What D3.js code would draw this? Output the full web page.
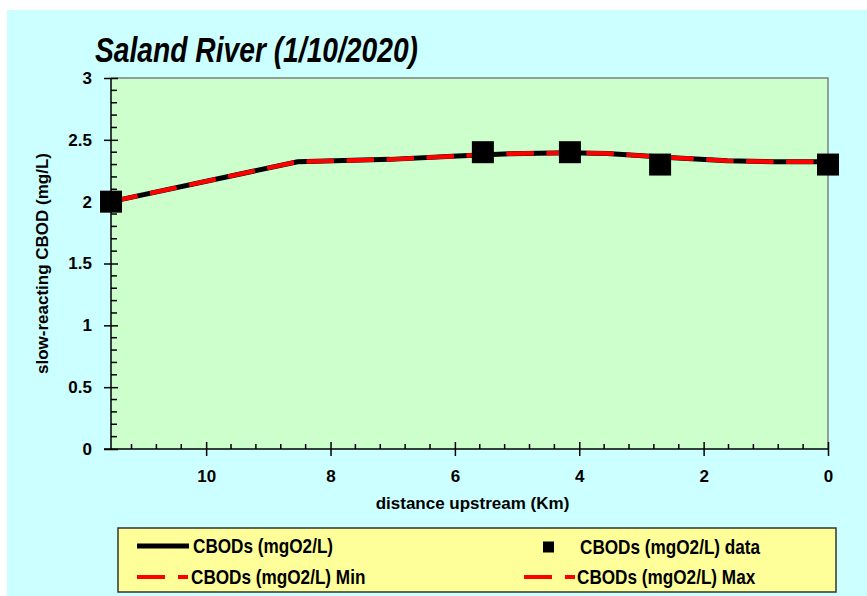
<!DOCTYPE html>
<html lang="en">
<head>
<meta charset="UTF-8" />
<title>Saland River CBOD</title>
<script src="https://cdn.jsdelivr.net/npm/d3@7/dist/d3.min.js"></script>
<style>
    body { margin: 0; background: #ffffff; overflow: hidden; }
    text { font-family: 'Liberation Sans', Arial, sans-serif; font-weight: bold; fill: #000; }
</style>
</head>
<body>
<svg id="chart" width="867" height="596"></svg>
<script>
    // model output (km upstream, mg/L)
    const modelKm = [11.53, 8.53, 7.04, 5.96, 5.11, 4.2, 3.55, 2.49, 1.62, 0.88, 0];
    const modelCbod = [2.0, 2.323, 2.342, 2.369, 2.388, 2.395, 2.39, 2.356, 2.33, 2.323, 2.323];
    const minCbod = [2.0, 2.323, 2.342, 2.369, 2.388, 2.395, 2.39, 2.356, 2.33, 2.323, 2.323];
    const maxCbod = [2.0, 2.323, 2.342, 2.369, 2.388, 2.395, 2.39, 2.356, 2.33, 2.323, 2.323];

    // observed data
    const dataKm = [11.53, 5.55, 4.15, 2.7, 0];
    const dataCbod = [2.0, 2.4, 2.4, 2.3, 2.3];

    const xTicks = [10, 8, 6, 4, 2, 0];
    const yTicks = [0, 0.5, 1, 1.5, 2, 2.5, 3];
    const legendLabels = ["CBODs (mgO2/L)", "CBODs (mgO2/L) data", "CBODs (mgO2/L) Min", "CBODs (mgO2/L) Max"];

    const svg = d3.select("#chart");
    const plot = { left: 111, right: 828, top: 78, bottom: 449 };

    svg.append("rect")
        .attr("x", 7).attr("y", 10)
        .attr("width", 860).attr("height", 586)
        .attr("fill", "#ccffff");

    const x = d3.scaleLinear().domain([11.53, 0]).range([plot.left, plot.right]);
    const y = d3.scaleLinear().domain([0, 3]).range([plot.bottom, plot.top]);

    svg.append("rect")
        .attr("x", plot.left).attr("y", plot.top)
        .attr("width", plot.right - plot.left)
        .attr("height", plot.bottom - plot.top)
        .attr("fill", "#ccffcc");

    // gray frame top & right
    svg.append("path")
        .attr("d", `M${plot.left},${plot.top}H${plot.right}V${plot.bottom}`)
        .attr("fill", "none")
        .attr("stroke", "#808080")
        .attr("stroke-width", 1.5);

    // minor ticks
    const yMinor = d3.range(0, 3.001, 0.1).filter(v => Math.abs(v * 2 - Math.round(v * 2)) > 1e-6);
    svg.append("g").selectAll("line").data(yMinor).join("line")
        .attr("x1", plot.left).attr("x2", plot.left + 6)
        .attr("y1", d => y(d)).attr("y2", d => y(d))
        .attr("stroke", "#000").attr("stroke-width", 1.5);

    const xMinor = d3.range(0, 11.5, 0.4).filter(v => Math.abs(v / 2 - Math.round(v / 2)) > 1e-6);
    svg.append("g").selectAll("line").data(xMinor).join("line")
        .attr("x1", d => x(d)).attr("x2", d => x(d))
        .attr("y1", plot.bottom).attr("y2", plot.bottom - 5)
        .attr("stroke", "#000").attr("stroke-width", 1.5);

    // axes with crossing major ticks
    const yAxis = svg.append("g")
        .attr("transform", `translate(${plot.left},0)`)
        .call(d3.axisLeft(y).tickValues(yTicks).tickSize(7).tickPadding(12).tickFormat(d3.format("")));
    yAxis.selectAll(".tick line").clone().attr("x2", 7);
    yAxis.select(".domain").attr("d", `M0,${plot.bottom}V${plot.top}`);

    const xAxis = svg.append("g")
        .attr("transform", `translate(0,${plot.bottom})`)
        .call(d3.axisBottom(x).tickValues(xTicks).tickSize(7).tickPadding(14).tickFormat(d3.format("d")));
    xAxis.selectAll(".tick line").clone().attr("y2", -7);
    xAxis.select(".domain").attr("d", `M${plot.left - 7},0H${plot.right}`);

    svg.selectAll(".domain, .tick line").attr("stroke", "#000").attr("stroke-width", 1.5);
    svg.selectAll(".tick text")
        .attr("font-size", 17)
        .attr("font-weight", "bold")
        .attr("font-family", "'Liberation Sans', Arial, sans-serif");

    // titles
    svg.append("text")
        .attr("x", 95).attr("y", 62)
        .attr("font-size", 35)
        .attr("font-style", "italic")
        .attr("textLength", 323)
        .attr("lengthAdjust", "spacingAndGlyphs")
        .text("Saland River (1/10/2020)");

    svg.append("text")
        .attr("transform", `translate(48,${(plot.top + plot.bottom) / 2}) rotate(-90)`)
        .attr("text-anchor", "middle")
        .attr("font-size", 17)
        .text("slow-reacting CBOD (mg/L)");

    svg.append("text")
        .attr("x", (plot.left + plot.right) / 2 + 3).attr("y", 509)
        .attr("text-anchor", "middle")
        .attr("font-size", 17)
        .text("distance upstream (Km)");

    // lines
    const line = d3.line().x(d => x(d[0])).y(d => y(d[1]));
    svg.append("path")
        .datum(d3.zip(modelKm, modelCbod))
        .attr("d", line)
        .attr("fill", "none").attr("stroke", "#000").attr("stroke-width", 5);
    [minCbod, maxCbod].forEach(vals => {
        svg.append("path")
            .datum(d3.zip(modelKm, vals))
            .attr("d", line)
            .attr("fill", "none").attr("stroke", "#ff0000")
            .attr("stroke-width", 4)
            .attr("stroke-dasharray", "27,13");
    });

    svg.append("g").selectAll("rect").data(d3.zip(dataKm, dataCbod)).join("rect")
        .attr("x", d => x(d[0]) - 11).attr("y", d => y(d[1]) - 11)
        .attr("width", 22).attr("height", 22)
        .attr("fill", "#000");

    // legend
    const leg = svg.append("g");
    leg.append("rect")
        .attr("x", 118).attr("y", 528).attr("width", 718).attr("height", 64)
        .attr("fill", "#ffff99").attr("stroke", "#333").attr("stroke-width", 1.5);

    const rows = [
        { lx: 137, tx: 193, ty: 546, kind: "solid" },
        { lx: 543, tx: 580, ty: 547, kind: "square" },
        { lx: 137, tx: 191, ty: 577, kind: "dash" },
        { lx: 524, tx: 577, ty: 577, kind: "dash" }
    ];
    rows.forEach((r, i) => {
        if (r.kind === "solid") {
            leg.append("line").attr("x1", r.lx).attr("x2", r.lx + 52)
                .attr("y1", r.ty).attr("y2", r.ty)
                .attr("stroke", "#000").attr("stroke-width", 5);
        } else if (r.kind === "dash") {
            leg.append("line").attr("x1", r.lx).attr("x2", r.lx + 51)
                .attr("y1", r.ty).attr("y2", r.ty)
                .attr("stroke", "#ff0000").attr("stroke-width", 4)
                .attr("stroke-dasharray", "28,13");
        } else {
            leg.append("rect").attr("x", r.lx).attr("y", r.ty - 5.5)
                .attr("width", 11).attr("height", 11).attr("fill", "#000");
        }
        leg.append("text")
            .attr("transform", `translate(${r.tx},${r.ty + 7}) scale(0.88,1)`)
            .attr("font-size", 19.5)
            .text(legendLabels[i]);
    });
</script>
</body>
</html>
